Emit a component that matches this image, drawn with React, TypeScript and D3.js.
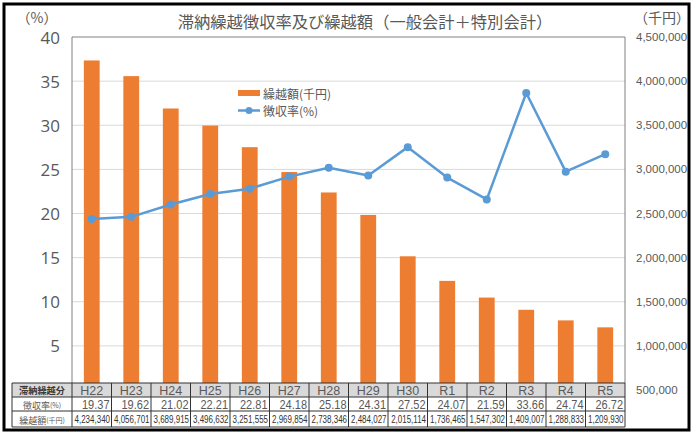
import React from "react";
import * as d3 from "d3";

const categories = ["H22","H23","H24","H25","H26","H27","H28","H29","H30","R1","R2","R3","R4","R5"];
const rates = [19.37,19.62,21.02,22.21,22.81,24.18,25.18,24.31,27.52,24.07,21.59,33.66,24.74,26.72];
const amounts = [4234340,4056701,3689915,3496632,3251555,2969854,2738346,2484027,2015114,1736465,1547302,1409007,1288833,1209930];
const leftTicks = [5,10,15,20,25,30,35,40];
const rightTicks = [500000,1000000,1500000,2000000,2500000,3000000,3500000,4000000,4500000];

const W = 700, H = 440;
const PL = 72, PR = 625, PT = 37, PB = 390;
const TABLE_L = 12;
const ROWS = [383, 397, 411, 427];
const GRAY = "#595959";
const ORANGE = "#ED7D31";
const BLUE = "#5B9BD5";

export default function App() {
  const x = d3.scaleBand<string>().domain(categories).range([PL, PR]).paddingInner(0.6).paddingOuter(0.3);
  const step = x.step();
  const yL = d3.scaleLinear().domain([0, 40]).range([PB, PT]);
  const yR = d3.scaleLinear().domain([500000, 4500000]).range([PB, PT]);
  const fmt = d3.format(",");
  const line = d3.line<number>()
    .x((_, i) => (x(categories[i]) as number) + x.bandwidth() / 2)
    .y((d) => yL(d));
  const colL = (i: number) => PL + i * step;

  return (
    <svg width={W} height={H} style={{ position: "absolute", left: 0, top: 0, background: "#fff" }}
      fontFamily="'Liberation Sans', Arial, sans-serif">
      <rect x={0} y={0} width={W} height={H} fill="#fff" />
      {/* title */}
      <text x={365} y={21} textAnchor="middle" dominantBaseline="central" fontSize={16.3} fill={GRAY}
        fontFamily="'Noto Sans CJK JP', sans-serif">滞納繰越徴収率及び繰越額（一般会計＋特別会計）</text>
      <text x={37} y={17} textAnchor="middle" dominantBaseline="central" fontSize={14} fill={GRAY}
        fontFamily="'Noto Sans CJK JP', sans-serif">（%）</text>
      <text x={662} y={17} textAnchor="middle" dominantBaseline="central" fontSize={14} fill={GRAY}
        fontFamily="'Noto Sans CJK JP', sans-serif">（千円）</text>

      {/* gridlines */}
      {leftTicks.filter((t) => t < 40).map((t) => (
        <line key={t} x1={PL} x2={PR} y1={yL(t)} y2={yL(t)} stroke="#d9d9d9" strokeWidth={1} />
      ))}

      {/* bars */}
      {amounts.map((v, i) => (
        <rect key={categories[i]} x={x(categories[i])} y={yR(v)} width={x.bandwidth()} height={yR(500000) - yR(v)} fill={ORANGE} />
      ))}

      {/* plot border */}
      <path d={`M${PL},${ROWS[0]}V${PT}H${PR}V${ROWS[0]}`} fill="none" stroke="#808080" strokeWidth={1} />

      {/* legend */}
      <rect x={232} y={84} width={115} height={34} fill="#fff" />
      <rect x={238} y={90} width={22} height={6} fill={ORANGE} />
      <text x={263} y={93} dominantBaseline="central" fontSize={12} fill={GRAY}
        fontFamily="'Noto Sans CJK JP', sans-serif">繰越額(千円)</text>
      <line x1={238} x2={260} y1={110.5} y2={110.5} stroke={BLUE} strokeWidth={2.5} />
      <circle cx={249} cy={110.5} r={3.5} fill={BLUE} />
      <text x={263} y={110.5} dominantBaseline="central" fontSize={12} fill={GRAY}
        fontFamily="'Noto Sans CJK JP', sans-serif">徴収率(%)</text>

      {/* line */}
      <path d={line(rates) || ""} fill="none" stroke={BLUE} strokeWidth={2.5} strokeLinejoin="round" />
      {rates.map((r, i) => (
        <circle key={categories[i]} cx={(x(categories[i]) as number) + x.bandwidth() / 2} cy={yL(r)} r={4} fill={BLUE} />
      ))}

      {/* left axis */}
      {leftTicks.map((t) => (
        <text key={t} x={60} y={yL(t)} textAnchor="end" dominantBaseline="central" fontSize={17} fill={GRAY}
          fontFamily="'Open Sans', sans-serif">{t}</text>
      ))}
      {/* right axis */}
      {rightTicks.map((t) => (
        <text key={t} x={636} y={yR(t)} textAnchor="start" dominantBaseline="central" fontSize={11.5} fill={GRAY}>{fmt(t)}</text>
      ))}

      {/* table */}
      <rect x={TABLE_L} y={ROWS[0]} width={PR - TABLE_L} height={ROWS[1] - ROWS[0]} fill="#d9d9d9" />
      <rect x={TABLE_L} y={ROWS[1]} width={PR - TABLE_L} height={ROWS[3] - ROWS[1]} fill="#fff" />
      {ROWS.map((r) => (
        <line key={r} x1={TABLE_L} x2={PR} y1={r} y2={r} stroke="#333" strokeWidth={1} />
      ))}
      <line x1={TABLE_L} x2={TABLE_L} y1={ROWS[0]} y2={ROWS[3]} stroke="#333" />
      {categories.map((c, i) => (
        <line key={c} x1={colL(i)} x2={colL(i)} y1={ROWS[0]} y2={ROWS[3]} stroke="#333" />
      ))}
      <line x1={PR} x2={PR} y1={ROWS[0]} y2={ROWS[3]} stroke="#333" />
      <text x={(TABLE_L + PL) / 2} y={(ROWS[0] + ROWS[1]) / 2} textAnchor="middle" dominantBaseline="central"
        fontSize={9.2} fontWeight="bold" fill="#3a3a3a" fontFamily="'Noto Sans CJK JP', sans-serif">滞納繰越分</text>
      <text x={(TABLE_L + PL) / 2} y={(ROWS[1] + ROWS[2]) / 2 + 0.5} textAnchor="middle" dominantBaseline="central"
        fill={GRAY} fontFamily="'Noto Sans CJK JP', sans-serif">
        <tspan fontSize={9}>徴収率</tspan><tspan fontSize={7}>(%)</tspan>
      </text>
      <text x={(TABLE_L + PL) / 2} y={(ROWS[2] + ROWS[3]) / 2 + 0.5} textAnchor="middle" dominantBaseline="central"
        fill={GRAY} fontFamily="'Noto Sans CJK JP', sans-serif">
        <tspan fontSize={9}>繰越額</tspan><tspan fontSize={7}>(千円)</tspan>
      </text>
      {categories.map((c, i) => (
        <g key={c}>
          <text x={colL(i) + step / 2} y={(ROWS[0] + ROWS[1]) / 2 + 0.5} textAnchor="middle" dominantBaseline="central"
            fontSize={12.5} fill={GRAY}>{c}</text>
          <text transform={`translate(${colL(i) + step - 2},${(ROWS[1] + ROWS[2]) / 2 + 0.5}) scale(0.88,1)`}
            textAnchor="end" dominantBaseline="central" fontSize={12.5} fill={GRAY}>{rates[i].toFixed(2)}</text>
          <text transform={`translate(${colL(i) + step - 1.5},${(ROWS[2] + ROWS[3]) / 2 + 0.5}) scale(0.76,1)`}
            textAnchor="end" dominantBaseline="central" fontSize={10.5} fill="#333">{fmt(amounts[i])}</text>
        </g>
      ))}

      {/* outer frame */}
      <rect x={4} y={4} width={685} height={426} fill="none" stroke="#000" strokeWidth={3} />
    </svg>
  );
}
